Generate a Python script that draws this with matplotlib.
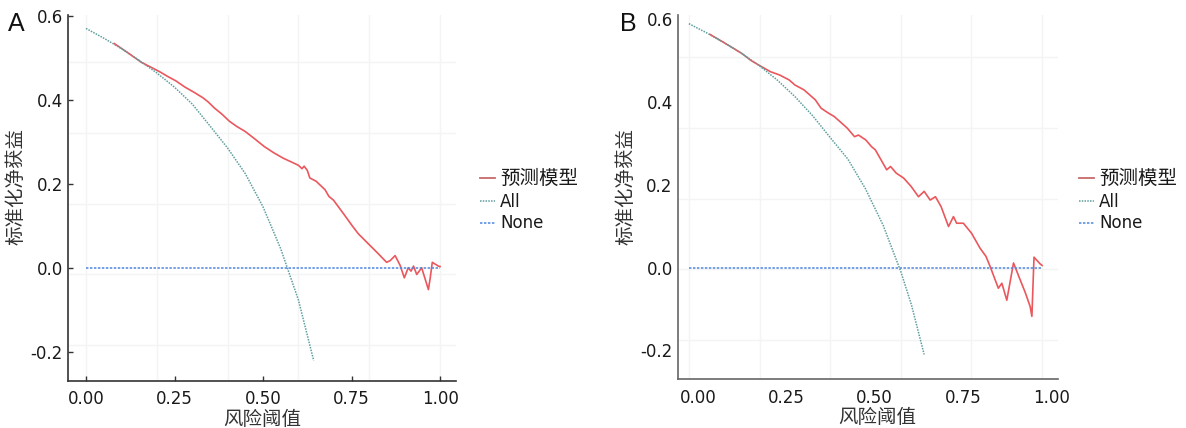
import matplotlib
matplotlib.use("Agg")
import matplotlib.pyplot as plt
import matplotlib.transforms as mtransforms
from matplotlib.lines import Line2D

plt.rcParams['font.family'] = ['DejaVu Sans', 'Noto Sans CJK SC']

### data
xticks = [0.00, 0.25, 0.50, 0.75, 1.00]
xtick_labels = ['0.00', '0.25', '0.50', '0.75', '1.00']
yticks = [-0.2, 0.0, 0.2, 0.4, 0.6]
ytick_labels = ['-0.2', '0.0', '0.2', '0.4', '0.6']
legend_labels = ['预测模型', 'All', 'None']

none_thr = [0.0, 1.0]
none_nb = [0.0, 0.0]

# panel A
a_all_thr = [0, 0.05, 0.1, 0.15, 0.2, 0.25, 0.3, 0.35, 0.4, 0.45, 0.5, 0.55, 0.6, 0.643]
a_all_nb = [0.57, 0.547, 0.522, 0.494, 0.464, 0.43, 0.39, 0.338, 0.285, 0.224, 0.145, 0.045, -0.077, -0.221]

a_mod_thr = [0.08, 0.12, 0.157, 0.185, 0.21, 0.23, 0.254, 0.28, 0.305, 0.33, 0.345, 0.362, 0.385,
             0.405, 0.425, 0.449, 0.475, 0.503, 0.53, 0.557, 0.58, 0.6, 0.61, 0.616, 0.625, 0.632,
             0.65, 0.665, 0.675, 0.686, 0.699, 0.727, 0.751, 0.769, 0.788, 0.807, 0.826, 0.835,
             0.849, 0.859, 0.873, 0.887, 0.899, 0.91, 0.918, 0.925, 0.934, 0.948, 0.967, 0.972,
             0.978, 0.995, 1.0]
a_mod_nb = [0.534, 0.511, 0.489, 0.477, 0.466, 0.456, 0.445, 0.43, 0.418, 0.405, 0.395, 0.381, 0.365,
            0.349, 0.337, 0.325, 0.308, 0.289, 0.274, 0.261, 0.252, 0.244, 0.236, 0.242, 0.232, 0.214,
            0.206, 0.194, 0.186, 0.17, 0.161, 0.129, 0.101, 0.081, 0.065, 0.049, 0.033, 0.025,
            0.013, 0.017, 0.029, 0.006, -0.024, 0.0, -0.008, 0.004, -0.016, 0.0, -0.052, -0.025,
            0.013, 0.004, 0.003]

# panel B
b_all_thr = [0, 0.05, 0.1, 0.15, 0.2, 0.25, 0.3, 0.35, 0.4, 0.45, 0.5, 0.55, 0.6, 0.63, 0.666]
b_all_nb = [0.589, 0.567, 0.543, 0.517, 0.487, 0.453, 0.413, 0.367, 0.314, 0.262, 0.19, 0.102, -0.01, -0.09, -0.21]

b_mod_thr = [0.06, 0.1, 0.15, 0.176, 0.204, 0.231, 0.257, 0.284, 0.3, 0.326, 0.342, 0.358, 0.374,
             0.395, 0.411, 0.427, 0.448, 0.469, 0.48, 0.501, 0.517, 0.528, 0.544, 0.56, 0.571,
             0.587, 0.608, 0.629, 0.65, 0.666, 0.683, 0.698, 0.714, 0.735, 0.749, 0.758, 0.777,
             0.8, 0.824, 0.841, 0.853, 0.876, 0.886, 0.9, 0.919, 0.937, 0.952, 0.966, 0.971,
             0.977, 0.994, 1.0]
b_mod_nb = [0.563, 0.543, 0.517, 0.50, 0.486, 0.473, 0.465, 0.453, 0.441, 0.429, 0.417, 0.405, 0.385,
            0.373, 0.365, 0.353, 0.337, 0.316, 0.32, 0.308, 0.292, 0.284, 0.26, 0.236, 0.244,
            0.228, 0.216, 0.196, 0.171, 0.184, 0.163, 0.171, 0.147, 0.099, 0.123, 0.107, 0.107,
            0.083, 0.047, 0.027, 0.002, -0.05, -0.038, -0.079, 0.011, -0.028, -0.06, -0.094, -0.118,
            0.025, 0.009, 0.005]

### styles
RED = '#e8454b'
TEAL = '#5f9e9e'
BLUE = '#4f86e0'
GRID = '#f3f4f4'

fig = plt.figure(figsize=(11.86, 4.28), dpi=100)


def draw_panel(rect, xlim, ylim, all_thr, all_nb, mod_thr, mod_nb, letter, letter_xy,
               hgrid, spine_col, tick_len, xlab_shift, ylab_xy, legend_xy):
    ax = fig.add_axes(rect)
    ax.set_xlim(xlim)
    ax.set_ylim(ylim)
    for g in [0.0, 0.2, 0.4, 0.6, 0.8, 1.0]:
        ax.axvline(g, color=GRID, lw=1.0, zorder=0)
    for g in hgrid:
        ax.axhline(g, color=GRID, lw=1.0, zorder=0)

    ax.plot(mod_thr, mod_nb, color=RED, lw=1.2, alpha=0.9, zorder=2)
    ax.plot(all_thr, all_nb, color=TEAL, lw=1.1, ls=(0, (1, 0.8)), zorder=3)
    ax.plot(none_thr, none_nb, color=BLUE, lw=1.1, ls=(0, (1.6, 1.0)), zorder=3)

    for s in ['top', 'right']:
        ax.spines[s].set_visible(False)
    for s in ['left', 'bottom']:
        ax.spines[s].set_color(spine_col)
        ax.spines[s].set_linewidth(1.2)

    ax.set_xticks(xticks)
    ax.set_xticklabels(xtick_labels)
    ax.set_yticks(yticks)
    ax.set_yticklabels(ytick_labels)
    ax.tick_params(direction='in', length=tick_len, width=1.0, color=spine_col,
                   labelsize=12, labelcolor='#1a1a1a')
    ax.tick_params(axis='x', pad=7)
    ax.tick_params(axis='y', pad=4)
    if xlab_shift:
        off = mtransforms.ScaledTranslation(xlab_shift / 100.0, 0, fig.dpi_scale_trans)
        for lab in ax.get_xticklabels():
            lab.set_transform(lab.get_transform() + off)

    ax.set_xlabel('风险阈值', fontsize=14, color='#333333', family='Noto Sans CJK SC')
    ax.xaxis.set_label_coords(0.5 + xlab_shift / (rect[2] * 1186.0), -0.077)
    ax.set_ylabel('标准化净获益', fontsize=14, color='#333333', family='Noto Sans CJK SC')
    ax.yaxis.set_label_coords(ylab_xy[0], ylab_xy[1])

    fig.text(letter_xy[0], letter_xy[1], letter, fontsize=18, family='Liberation Sans',
             ha='left', va='top', color='#111111')

    handles = [Line2D([], [], color='#c86a6a', lw=1.3),
               Line2D([], [], color=TEAL, lw=1.1, ls=(0, (1, 0.8))),
               Line2D([], [], color=BLUE, lw=1.1, ls=(0, (1.6, 1.0)))]
    leg = fig.legend(handles, legend_labels, loc='upper left', bbox_to_anchor=legend_xy,
                     bbox_transform=fig.transFigure, frameon=False, fontsize=12,
                     handlelength=0.9, handletextpad=0.3, labelspacing=0.22,
                     borderpad=0, borderaxespad=0)
    for t in leg.get_texts():
        t.set_color('#1a1a1a')
    leg.get_texts()[0].set_fontsize(14)
    leg.get_texts()[0].set_family('Noto Sans CJK SC')
    return ax


hgrid_a = [0.49, 0.321, 0.152, -0.014, -0.183]
hgrid_b = [0.509, 0.337, 0.166, -0.003, -0.175]

draw_panel([0.0576, 0.1105, 0.3269, 0.8544], (-0.05, 1.045), (-0.269, 0.602),
           a_all_thr, a_all_nb, a_mod_thr, a_mod_nb, 'A', (8 / 1186, 1 - 12 / 428),
           hgrid_a, '#333333', 3.5, 0, (-0.107, 0.53), (480 / 1186, 1 - 168 / 428))

draw_panel([0.5719, 0.1138, 0.3202, 0.8512], (-0.030, 1.045), (-0.27, 0.61),
           b_all_thr, b_all_nb, b_mod_thr, b_mod_nb, 'B', (620 / 1186, 1 - 12 / 428),
           hgrid_b, '#666666', 0, 9, (-0.111, 0.528), (1079 / 1186, 1 - 168 / 428))

fig.savefig('out.png', dpi=100)
